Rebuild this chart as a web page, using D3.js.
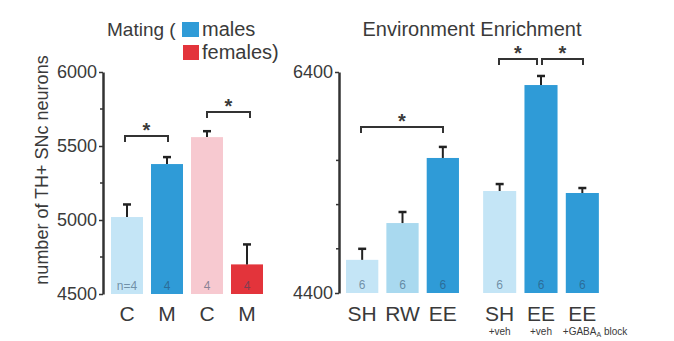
<!DOCTYPE html>
<html>
<head>
<meta charset="utf-8">
<script src="https://cdn.jsdelivr.net/npm/d3@7"></script>
<style>
  body { margin: 0; background: #fff; }
  svg text { font-family: "Liberation Sans", Arial, sans-serif; fill: #3a3a3a; }
</style>
</head>
<body>
<svg id="chart" width="674" height="341"></svg>
<script>
// mating panel
const matingCats = ["C", "M", "C", "M"];
const matingValues = [5020, 5378, 5560, 4700];
const matingErrors = [85, 47, 40, 135];
const matingN = ["n=4", "4", "4", "4"];
const matingTicks = [4500, 5000, 5500, 6000];

// enrichment panel
const enrichCats = ["SH", "RW", "EE"];
const enrichValues = [4700, 5033, 5622];
const enrichErrors = [100, 100, 100];
const enrichN = ["6", "6", "6"];
const drugCats = ["SH", "EE", "EE"];
const drugSub = ["+veh", "+veh", "+GABA"];
const drugValues = [5323, 6282, 5305];
const drugErrors = [63, 82, 45];
const drugN = ["6", "6", "6"];
const enrichTicks = [4400, 6400];

const matingColors = ["#c4e5f6", "#2f9bd7", "#f7c9d0", "#e3343b"];
const enrichColors = ["#c4e5f6", "#a9d9ef", "#2f9bd7"];
const drugColors = ["#c4e5f6", "#2f9bd7", "#2f9bd7"];

const svg = d3.select("#chart");

function errBars(g, x, y, vals, errs) {
  vals.forEach((v, i) => {
    const cx = x(i) + x.bandwidth() / 2;
    g.append("line").attr("x1", cx).attr("x2", cx)
      .attr("y1", y(v)).attr("y2", y(v + errs[i]))
      .attr("stroke", "#222").attr("stroke-width", 2);
    g.append("line").attr("x1", cx - 4).attr("x2", cx + 4)
      .attr("y1", y(v + errs[i])).attr("y2", y(v + errs[i]))
      .attr("stroke", "#222").attr("stroke-width", 2.5);
  });
}

function bars(g, x, y, vals, colors, ns, base) {
  g.selectAll(null).data(vals).join("rect")
    .attr("x", (d, i) => x(i)).attr("width", x.bandwidth())
    .attr("y", d => y(d)).attr("height", d => y(base) - y(d))
    .attr("fill", (d, i) => colors[i]);
  g.selectAll(null).data(ns).join("text")
    .attr("x", (d, i) => x(i) + x.bandwidth() / 2).attr("y", y(base) - 4)
    .attr("text-anchor", "middle").attr("font-size", 12)
    .style("fill", "rgba(40,70,100,0.55)")
    .text(d => d);
}

function bracket(g, x1, x2, yy) {
  g.append("path")
    .attr("d", `M${x1},${yy + 6}V${yy}H${x2}V${yy + 6}`)
    .attr("fill", "none").attr("stroke", "#333").attr("stroke-width", 2);
  g.append("text").attr("x", (x1 + x2) / 2).attr("y", yy + 1)
    .attr("text-anchor", "middle").attr("font-size", 20).attr("font-weight", "bold").text("*");
}

function yAxis(g, y, ticks, minor, xPos) {
  const ax = g.append("g").attr("transform", `translate(${xPos},0)`);
  ax.call(d3.axisLeft(y).tickValues(ticks).tickFormat(d3.format("d"))
    .tickSize(4).tickSizeOuter(0).tickPadding(2));
  ax.selectAll("line.m").data(minor).join("line").attr("class", "m")
    .attr("x1", -3).attr("x2", 0).attr("y1", d => y(d)).attr("y2", d => y(d))
    .attr("stroke", "#333").attr("stroke-width", 1.5);
  ax.select(".domain").attr("stroke", "#333").attr("stroke-width", 2.5);
  ax.selectAll(".tick line").attr("stroke", "#333").attr("stroke-width", 1.5);
  ax.selectAll(".tick text").attr("font-size", 18).style("fill", "#3a3a3a")
    .attr("font-family", "Liberation Sans, Arial, sans-serif");
}

// ----- left panel
const yL = d3.scaleLinear().domain([4500, 6000]).range([294, 72]);
const xL = d3.scaleBand().domain(d3.range(matingCats.length)).range([107, 267])
  .paddingInner(0.2).paddingOuter(0.1);
const gL = svg.append("g");
bars(gL, xL, yL, matingValues, matingColors, matingN, 4500);
errBars(gL, xL, yL, matingValues, matingErrors);
yAxis(gL, yL, matingTicks, [4750, 5250, 5750], 103);
gL.selectAll(null).data(matingCats).join("text")
  .attr("x", (d, i) => xL(i) + xL.bandwidth() / 2).attr("y", 321)
  .attr("text-anchor", "middle").attr("font-size", 21).text(d => d);
bracket(gL, 125, 168, 136);
bracket(gL, 207, 250, 112);

gL.append("text").attr("transform", "translate(48,170) rotate(-90)")
  .attr("text-anchor", "middle").attr("font-size", 18).text("number of TH+ SNc neurons");

gL.append("text").attr("x", 107).attr("y", 36).attr("font-size", 19).text("Mating (");
gL.append("rect").attr("x", 182).attr("y", 22).attr("width", 17).attr("height", 15).attr("fill", matingColors[1]);
gL.append("text").attr("x", 202).attr("y", 36).attr("font-size", 20).text("males");
gL.append("rect").attr("x", 183).attr("y", 45).attr("width", 16).attr("height", 15).attr("fill", matingColors[3]);
gL.append("text").attr("x", 202).attr("y", 59).attr("font-size", 20).text("females)");

// ----- right panel
const yR = d3.scaleLinear().domain([4400, 6400]).range([293, 72]);
const xR1 = d3.scaleBand().domain(d3.range(enrichCats.length)).range([342, 463])
  .paddingInner(0.2).paddingOuter(0.1);
const xR2 = d3.scaleBand().domain(d3.range(drugCats.length)).range([479, 603])
  .paddingInner(0.2).paddingOuter(0.1);
const gR = svg.append("g");
bars(gR, xR1, yR, enrichValues, enrichColors, enrichN, 4400);
bars(gR, xR2, yR, drugValues, drugColors, drugN, 4400);
errBars(gR, xR1, yR, enrichValues, enrichErrors);
errBars(gR, xR2, yR, drugValues, drugErrors);
yAxis(gR, yR, enrichTicks, [4800, 5200, 5600], 339);

gR.selectAll(null).data(enrichCats).join("text")
  .attr("x", (d, i) => xR1(i) + xR1.bandwidth() / 2).attr("y", 321)
  .attr("text-anchor", "middle").attr("font-size", 21).text(d => d);
gR.selectAll(null).data(drugCats).join("text")
  .attr("x", (d, i) => xR2(i) + xR2.bandwidth() / 2).attr("y", 321)
  .attr("text-anchor", "middle").attr("font-size", 21).text(d => d);
const sub = gR.selectAll(null).data(drugSub).join("text")
  .attr("x", (d, i) => i < 2 ? xR2(i) + xR2.bandwidth() / 2 : xR2(i) - 3)
  .attr("y", 335).attr("text-anchor", (d, i) => i < 2 ? "middle" : "start")
  .attr("font-size", 10).text(d => d);
sub.filter((d, i) => i === 2).append("tspan").attr("font-size", 7).attr("dy", 2).text("A");
sub.filter((d, i) => i === 2).append("tspan").attr("dy", -2).text(" block");

bracket(gR, 361, 443, 127);
bracket(gR, 499, 537, 59);
bracket(gR, 542, 583, 59);

gR.append("text").attr("x", 472).attr("y", 36).attr("text-anchor", "middle")
  .attr("font-size", 20).text("Environment Enrichment");
</script>
</body>
</html>
